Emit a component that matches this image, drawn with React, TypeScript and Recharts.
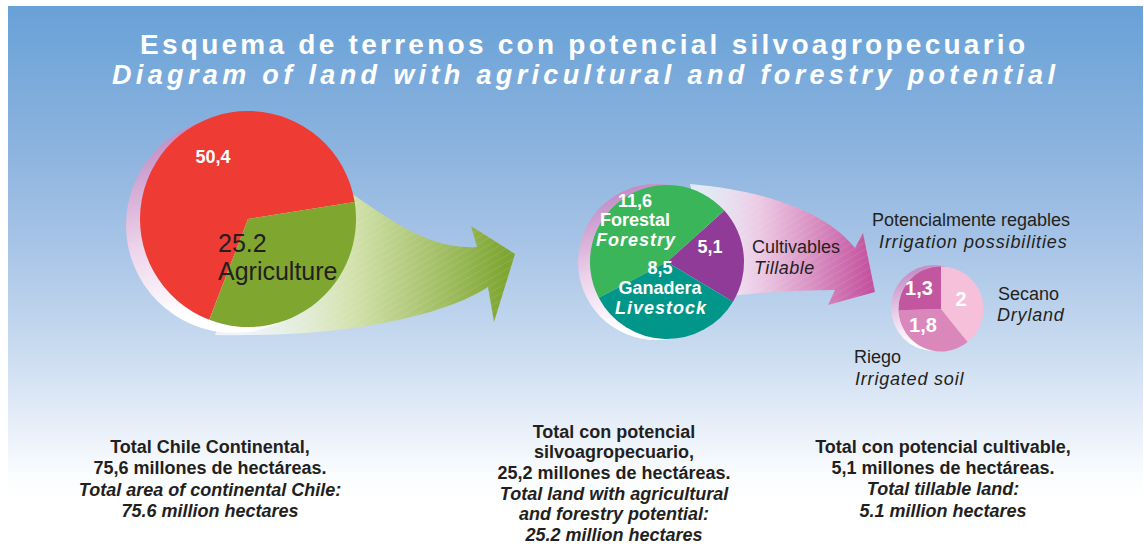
import React from "react";
import { PieChart, Pie, Cell } from "recharts";

const W = 1144;
const H = 550;

// Total Chile continental: 75,6 millones de ha
const chileNames = ["Otros", "Agriculture"];
const chileValues = [50.4, 25.2];
const chileColors = ["#ee3b33", "#7fa62f"];

// Total con potencial silvoagropecuario: 25,2 millones de ha
const silvoNames = ["Cultivables", "Forestal", "Ganadera"];
const silvoValues = [5.1, 11.6, 8.5];
const silvoColors = ["#8f3b97", "#3bb55a", "#009689"];

// Total con potencial cultivable: 5,1 millones de ha
const cultNames = ["Secano", "Riego", "Potencialmente regables"];
const cultValues = [2, 1.8, 1.3];
const cultColors = ["#f6c0da", "#da87bc", "#c2569f"];

const toRows = (names: string[], values: number[]) =>
  names.map((name, i) => ({ name, value: values[i] }));
const comma = (v: number) => String(v).replace(".", ",");

const INK = "#231f20";
const FONT = "'Liberation Sans', Arial, Helvetica, sans-serif";

type TP = {
  x: number; y: number; children: React.ReactNode; size?: number;
  bold?: boolean; italic?: boolean; fill?: string; anchor?: "start" | "middle" | "end"; ls?: number;
};
function T({ x, y, children, size = 18, bold, italic, fill = INK, anchor = "start", ls }: TP) {
  return (
    <text x={x} y={y} fontSize={size} fontWeight={bold ? "bold" : "normal"}
      fontStyle={italic ? "italic" : "normal"} fill={fill} textAnchor={anchor}
      letterSpacing={ls}>
      {children}
    </text>
  );
}

function Block({ x, y, lines, italicFrom, step = 21.3 }: { x: number; y: number; lines: string[]; italicFrom: number; step?: number }) {
  return (
    <g>
      {lines.map((l, i) => (
        <T key={i} x={x} y={y + i * step} bold italic={i >= italicFrom} anchor="middle">{l}</T>
      ))}
    </g>
  );
}

export default function App() {
  return (
    <div style={{ position: "absolute", left: 0, top: 0, width: W, height: H, background: "#fff", overflow: "hidden", fontFamily: FONT }}>
      {/* background, shadows, arrows */}
      <svg width={W} height={H} style={{ position: "absolute", left: 0, top: 0 }}>
        <defs>
          <linearGradient id="bg" x1="0" y1="0" x2="0" y2="1">
            <stop offset="0" stopColor="#68a1d7" />
            <stop offset="0.27" stopColor="#8db4df" />
            <stop offset="0.45" stopColor="#a9c5e7" />
            <stop offset="0.63" stopColor="#c9dbf0" />
            <stop offset="0.76" stopColor="#e5edf8" />
            <stop offset="0.86" stopColor="#fafcfe" />
            <stop offset="0.92" stopColor="#ffffff" />
          </linearGradient>
          <linearGradient id="shade" x1="0" y1="0" x2="0.35" y2="1">
            <stop offset="0.1" stopColor="#c089c4" />
            <stop offset="0.55" stopColor="#ecd3ea" />
            <stop offset="0.9" stopColor="#ffffff" />
          </linearGradient>
          <linearGradient id="garrow" gradientUnits="userSpaceOnUse" x1="250" y1="0" x2="505" y2="0">
            <stop offset="0" stopColor="#ffffff" stopOpacity="0.7" />
            <stop offset="0.4" stopColor="#d3e2ad" />
            <stop offset="1" stopColor="#7fa632" />
          </linearGradient>
          <linearGradient id="parrow" gradientUnits="userSpaceOnUse" x1="700" y1="0" x2="870" y2="0">
            <stop offset="0" stopColor="#ffffff" stopOpacity="0.7" />
            <stop offset="0.35" stopColor="#eccae4" />
            <stop offset="1" stopColor="#c4529e" />
          </linearGradient>
          <pattern id="hatch" width="6" height="6" patternUnits="userSpaceOnUse" patternTransform="rotate(60)">
            <line x1="0" y1="0" x2="0" y2="6" stroke="#ffffff" strokeWidth="1" strokeOpacity="0.18" />
          </pattern>
        </defs>
        <rect x={8} y={6} width={1135} height={544} fill="url(#bg)" />
        <circle cx={234} cy={225} r={108} fill="url(#shade)" />
        <circle cx={656} cy={262} r={78} fill="url(#shade)" />
        <circle cx={934} cy={308} r={43} fill="url(#shade)" />
        <path d="M 340 186 C 385 215, 425 250, 477 247 L 471 226 L 515 254 L 494 322 L 488 287 C 450 312, 360 338, 215 335 L 250 250 Z" fill="url(#garrow)" />
        <path d="M 340 186 C 385 215, 425 250, 477 247 L 471 226 L 515 254 L 494 322 L 488 287 C 450 312, 360 338, 215 335 L 250 250 Z" fill="url(#hatch)" />
        <path d="M 690 184 C 760 190, 825 210, 855 248 L 863 233 L 875 292 L 828 305 L 835 290 C 800 290, 760 292, 715 298 Z" fill="url(#parrow)" />
        <path d="M 690 184 C 760 190, 825 210, 855 248 L 863 233 L 875 292 L 828 305 L 835 290 C 800 290, 760 292, 715 298 Z" fill="url(#hatch)" />
      </svg>

      <div style={{ position: "absolute", left: 0, top: 0 }}>
        <PieChart width={W} height={H}>
          <Pie data={toRows(chileNames, chileValues)} dataKey="value" nameKey="name"
            cx={243} cy={214} outerRadius={108} startAngle={9} endAngle={369}
            stroke="none" isAnimationActive={false}>
            {chileColors.map((c, i) => <Cell key={i} fill={c} />)}
          </Pie>
          <Pie data={toRows(silvoNames, silvoValues)} dataKey="value" nameKey="name"
            cx={662} cy={257} outerRadius={77} startAngle={-31} endAngle={329}
            stroke="none" isAnimationActive={false}>
            {silvoColors.map((c, i) => <Cell key={i} fill={c} />)}
          </Pie>
          <Pie data={toRows(cultNames, cultValues)} dataKey="value" nameKey="name"
            cx={936} cy={304} outerRadius={42.5} startAngle={90} endAngle={-270}
            stroke="none" isAnimationActive={false}>
            {cultColors.map((c, i) => <Cell key={i} fill={c} />)}
          </Pie>
        </PieChart>
      </div>

      {/* texts */}
      <svg width={W} height={H} style={{ position: "absolute", left: 0, top: 0, pointerEvents: "none" }} fontFamily={FONT}>
        <text x={140} y={54} textLength={885} lengthAdjust="spacing" fontSize={28} fontWeight="bold" fill="#fff">
          Esquema de terrenos con potencial silvoagropecuario
        </text>
        <text x={112} y={84} textLength={943} lengthAdjust="spacing" fontSize={27} fontWeight="bold" fontStyle="italic" fill="#fff">
          Diagram of land with agricultural and forestry potential
        </text>

        <T x={213} y={163} bold fill="#fff" anchor="middle">{comma(chileValues[0])}</T>
        <T x={218} y={252} size={25}>{String(chileValues[1])}</T>
        <T x={218} y={280} size={25}>{chileNames[1]}</T>

        <T x={635} y={206.5} bold fill="#fff" anchor="middle">{comma(silvoValues[1])}</T>
        <T x={635} y={226} bold fill="#fff" anchor="middle">{silvoNames[1]}</T>
        <T x={636} y={246} bold italic fill="#fff" anchor="middle" ls={1}>Forestry</T>
        <T x={710} y={253} bold fill="#fff" anchor="middle">{comma(silvoValues[0])}</T>
        <T x={660} y={274} bold fill="#fff" anchor="middle">{comma(silvoValues[2])}</T>
        <T x={660} y={294} bold fill="#fff" anchor="middle">{silvoNames[2]}</T>
        <T x={661} y={314} bold italic fill="#fff" anchor="middle" ls={1}>Livestock</T>

        <T x={752} y={253}>{silvoNames[0]}</T>
        <T x={754} y={274} italic ls={0.5}>Tillable</T>

        <T x={919} y={295} size={20} bold fill="#fff" anchor="middle">{comma(cultValues[2])}</T>
        <T x={961} y={306} size={20} bold fill="#fff" anchor="middle">{comma(cultValues[0])}</T>
        <T x={923} y={332} size={20} bold fill="#fff" anchor="middle">{comma(cultValues[1])}</T>

        <T x={872} y={226}>{cultNames[2]}</T>
        <T x={879} y={248} italic ls={0.9}>Irrigation possibilities</T>
        <T x={998} y={300}>{cultNames[0]}</T>
        <T x={997} y={321} italic ls={0.8}>Dryland</T>
        <T x={854} y={363}>{cultNames[1]}</T>
        <T x={855} y={385} italic ls={0.8}>Irrigated soil</T>

        <Block x={210} y={453} italicFrom={2} lines={[
          "Total Chile Continental,",
          "75,6 millones de hectáreas.",
          "Total area of continental Chile:",
          "75.6 million hectares",
        ]} />
        <Block x={614} y={437.5} step={20.7} italicFrom={3} lines={[
          "Total con potencial",
          "silvoagropecuario,",
          "25,2 millones de hectáreas.",
          "Total land with agricultural",
          "and forestry potential:",
          "25.2 million hectares",
        ]} />
        <Block x={943} y={452.7} italicFrom={2} lines={[
          "Total con potencial cultivable,",
          "5,1 millones de hectáreas.",
          "Total tillable land:",
          "5.1 million hectares",
        ]} />
      </svg>
    </div>
  );
}
